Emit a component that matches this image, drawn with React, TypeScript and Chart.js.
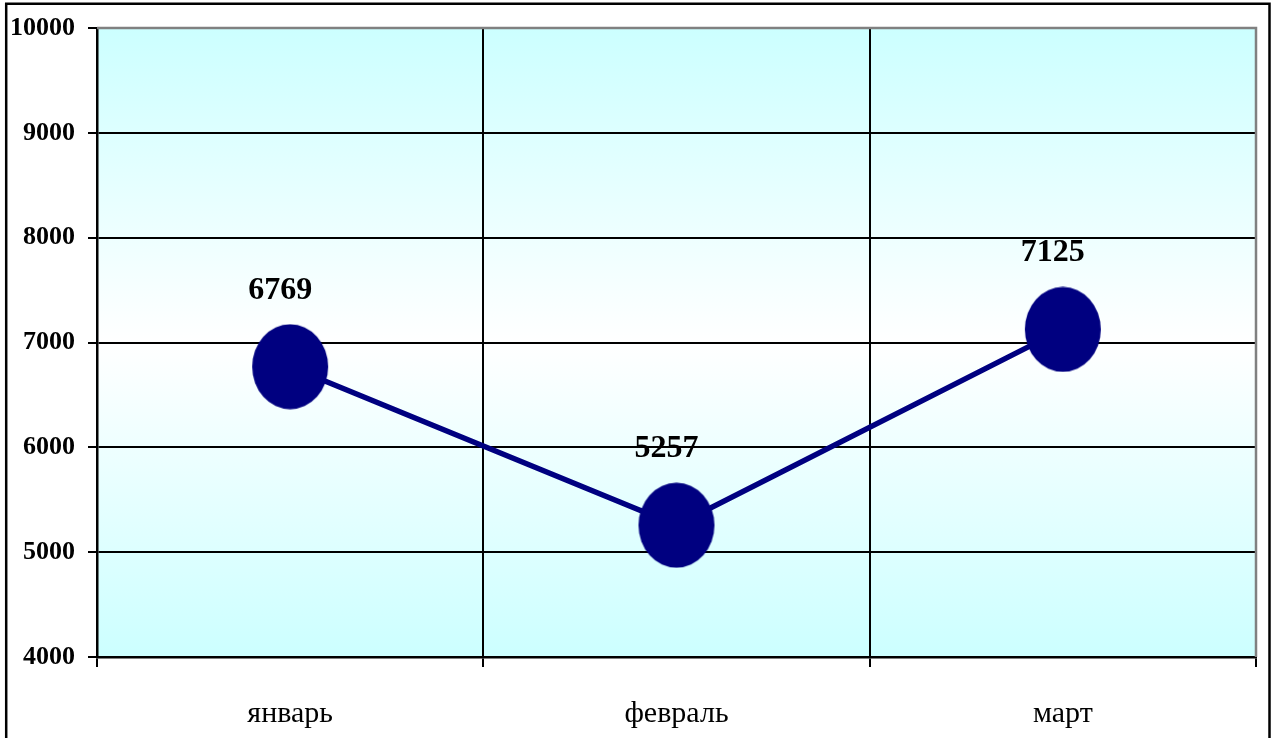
import React, { useEffect, useRef } from "react";
import { Chart, registerables } from "chart.js";

Chart.register(...registerables);

const categories = ["январь", "февраль", "март"];
const values = [6769, 5257, 7125];
const yMin = 4000;
const yMax = 10000;
const yStep = 1000;

const W = 1271;
const H = 738;
const FONT = "'Liberation Serif', 'Times New Roman', serif";

function makeEllipse(): HTMLCanvasElement {
  const c = document.createElement("canvas");
  c.width = 78;
  c.height = 86;
  const g = c.getContext("2d")!;
  g.fillStyle = "#000080";
  g.beginPath();
  g.ellipse(39, 43, 38, 42.5, 0, 0, Math.PI * 2);
  g.fill();
  return c;
}

export default function App() {
  const ref = useRef<HTMLCanvasElement | null>(null);

  useEffect(() => {
    if (!ref.current) return;
    const marker = makeEllipse();

    const bgPlugin = {
      id: "bgPlugin",
      beforeDraw(chart: any) {
        const { ctx, chartArea: a } = chart;
        ctx.save();
        ctx.fillStyle = "#ffffff";
        ctx.fillRect(0, 0, chart.width, chart.height);
        const grad = ctx.createLinearGradient(0, a.top, 0, a.bottom);
        grad.addColorStop(0, "#ccffff");
        grad.addColorStop(0.5, "#ffffff");
        grad.addColorStop(1, "#ccffff");
        ctx.fillStyle = grad;
        ctx.fillRect(a.left, a.top, a.right - a.left, a.bottom - a.top);
        ctx.restore();
      },
    };

    const framePlugin = {
      id: "framePlugin",
      afterDraw(chart: any) {
        const { ctx, chartArea: a } = chart;
        ctx.save();
        ctx.strokeStyle = "#808080";
        ctx.lineWidth = 2.5;
        ctx.beginPath();
        ctx.moveTo(a.left, a.top);
        ctx.lineTo(a.right, a.top);
        ctx.lineTo(a.right, a.bottom);
        ctx.stroke();
        ctx.strokeStyle = "#000000";
        ctx.lineWidth = 2.5;
        ctx.beginPath();
        ctx.moveTo(6.2, H + 5);
        ctx.lineTo(6.2, 3.7);
        ctx.lineTo(1269.5, 3.7);
        ctx.lineTo(1269.5, H + 5);
        ctx.stroke();
        ctx.restore();
      },
    };

    const labelPlugin = {
      id: "labelPlugin",
      afterDatasetsDraw(chart: any) {
        const { ctx } = chart;
        const meta = chart.getDatasetMeta(0);
        ctx.save();
        ctx.font = `bold 32px ${FONT}`;
        ctx.fillStyle = "#000000";
        ctx.textAlign = "center";
        ctx.textBaseline = "alphabetic";
        meta.data.forEach((pt: any, i: number) => {
          ctx.fillText(String(values[i]), pt.x - 10, pt.y - 68);
        });
        ctx.restore();
      },
    };

    const chart = new Chart(ref.current, {
      type: "line",
      data: {
        labels: categories,
        datasets: [
          {
            data: values,
            borderColor: "#000080",
            borderWidth: 5.5,
            tension: 0,
            pointStyle: marker as any,
            pointRadius: 40,
            pointHoverRadius: 40,
            backgroundColor: "#000080",
          },
        ],
      },
      options: {
        responsive: false,
        animation: false,
        events: [],
        layout: { autoPadding: false, padding: { left: 0, top: 28, right: 15, bottom: 0 } },
        plugins: {
          legend: { display: false },
          tooltip: { enabled: false },
        },
        scales: {
          x: {
            type: "category",
            offset: true,
            grid: {
              offset: true,
              color: "#000000",
              lineWidth: 2,
              tickLength: 10,
              drawOnChartArea: true,
            },
            border: { color: "#000000", width: 2.5 },
            ticks: {
              color: "#000000",
              font: { family: FONT, size: 30 },
              padding: 29,
              maxRotation: 0,
            },
            afterFit(scale: any) {
              scale.height = 81;
              scale.paddingLeft = 0;
              scale.paddingRight = 0;
            },
          },
          y: {
            min: yMin,
            max: yMax,
            grid: { color: "#000000", lineWidth: 2, tickLength: 9 },
            border: { color: "#000000", width: 2.5 },
            ticks: {
              stepSize: yStep,
              color: "#000000",
              font: { family: FONT, size: 26, weight: "bold" },
              padding: 13,
              callback: (v: any) => String(v),
            },
            afterFit(scale: any) {
              scale.width = 97;
              scale.paddingTop = 0;
              scale.paddingBottom = 0;
            },
          },
        },
      },
      plugins: [bgPlugin, framePlugin, labelPlugin],
    });
    return () => chart.destroy();
  }, []);

  return (
    <div style={{ position: "absolute", left: 0, top: 0, width: W, height: H }}>
      <canvas ref={ref} width={W} height={H} style={{ display: "block" }} />
    </div>
  );
}
